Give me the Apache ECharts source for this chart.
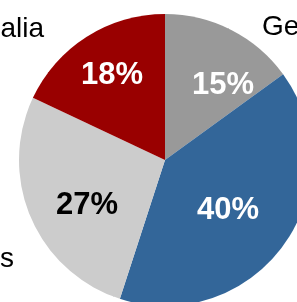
<!DOCTYPE html>
<html lang="en">
<head>
    <meta charset="UTF-8">
    <title>Pie</title>
    <script src="https://cdn.jsdelivr.net/npm/echarts/dist/echarts.min.js"></script>
    <style>
        html, body { margin: 0; padding: 0; background: #fff; }
        #chart { width: 297px; height: 302px; }
    </style>
</head>
<body>
    <div id="chart"></div>
    <script>
        // slices, clockwise from 12 o'clock
        const names = ['Germany', 'United States', 'Others', 'Australia'];
        const shares = [15, 40, 27, 18];

        const colors = ['#999999', '#336699', '#cccccc', '#990000'];
        const pctColors = ['#ffffff', '#ffffff', '#000000', '#ffffff'];

        // label anchor points (px), percent labels centred, names aligned per side
        const pctPos = [[223, 85], [228, 210], [87, 205], [112, 75]];
        const namePos = [[262, 27, 'left'], [305, 200, 'left'], [14, 259, 'right'], [44, 29, 'right']];

        const data = names.map((n, i) => ({ name: n, value: shares[i], itemStyle: { color: colors[i] } }));

        const chart = echarts.init(document.getElementById('chart'));
        chart.setOption({
            animation: false,
            series: [
                {
                    type: 'pie',
                    center: [165, 160],
                    radius: 146,
                    startAngle: 90,
                    clockwise: true,
                    avoidLabelOverlap: false,
                    itemStyle: { borderWidth: 0 },
                    label: {
                        show: true,
                        position: 'inside',
                        formatter: '{d}%',
                        fontFamily: 'Liberation Sans, Arial, sans-serif',
                        fontSize: 31,
                        fontWeight: 'bold'
                    },
                    labelLayout: p => ({
                        x: pctPos[p.dataIndex][0],
                        y: pctPos[p.dataIndex][1],
                        align: 'center',
                        verticalAlign: 'middle'
                    }),
                    data: data.map((d, i) => Object.assign({}, d, { label: { color: pctColors[i] } }))
                },
                {
                    type: 'pie',
                    silent: true,
                    center: [165, 160],
                    radius: 146,
                    startAngle: 90,
                    avoidLabelOverlap: false,
                    itemStyle: { color: 'rgba(0,0,0,0)', borderWidth: 0 },
                    labelLine: { show: false },
                    label: {
                        show: true,
                        position: 'inside',
                        overflow: 'none',
                        formatter: '{b}',
                        fontFamily: 'Liberation Sans, Arial, sans-serif',
                        fontSize: 28,
                        color: '#000'
                    },
                    labelLayout: p => ({
                        x: namePos[p.dataIndex][0],
                        y: namePos[p.dataIndex][1],
                        align: namePos[p.dataIndex][2],
                        verticalAlign: 'middle',
                        hideOverlap: false
                    }),
                    data: names.map((n, i) => ({ name: n, value: shares[i] }))
                }
            ]
        });
    </script>
</body>
</html>
